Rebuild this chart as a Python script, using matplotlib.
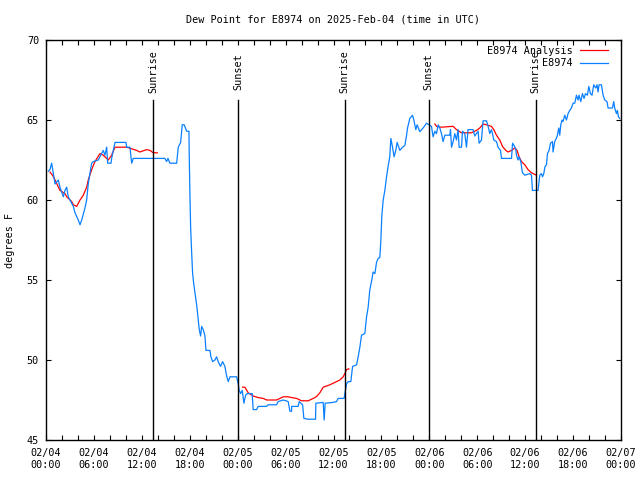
#!/usr/bin/env python3
"""Dew point time series for E8974, observations vs analysis, with sunrise/sunset marks."""
import numpy as np
import matplotlib
matplotlib.use("Agg")
import matplotlib.pyplot as plt
from matplotlib.ticker import MultipleLocator

plt.rcParams["font.family"] = ["DejaVu Sans Mono"]

# hours since 2025-02-04 00:00 UTC, dew point (F)
obs_h = [0.29, 0.49, 0.71, 0.91, 1.13, 1.54, 1.75, 2.17, 2.38, 2.59, 2.79, 3.00, 3.22, 3.42,
         3.63, 4.04, 4.26, 4.47, 4.88, 5.09, 5.29, 5.51, 5.72, 5.92, 6.55, 6.97, 7.17, 7.38,
         7.60, 7.72, 8.14, 8.22, 8.51, 8.64, 10.01, 10.10, 10.51, 10.73, 10.93, 14.89, 15.10,
         15.27, 15.52, 16.36, 16.56, 16.86, 17.06, 17.31, 17.61, 17.90, 17.93, 18.02, 18.11,
         18.24, 18.36, 18.49, 18.65, 18.77, 18.90, 19.06, 19.19, 19.36, 19.49, 19.69, 19.90,
         20.03, 20.53, 20.65, 20.86, 21.15, 21.36, 21.56, 21.86, 22.11, 22.40, 22.62, 22.82,
         23.03, 23.87, 24.07, 24.19, 24.37, 24.57, 24.78, 24.99, 25.19, 25.82, 25.94, 26.37,
         26.57, 27.62, 27.82, 28.87, 29.07, 29.70, 30.04, 30.33, 30.54, 30.75, 30.76, 31.58,
         31.70, 31.91, 32.13, 32.29, 32.83, 33.75, 33.79, 34.71, 34.83, 34.96, 35.96, 36.38,
         36.58, 37.33, 37.42, 37.63, 37.83, 38.17, 38.39, 38.89, 39.09, 39.30, 39.51, 39.92,
         40.14, 40.34, 40.55, 40.76, 40.96, 41.18, 41.39, 41.59, 41.80, 41.93, 42.05, 42.22,
         42.43, 42.64, 42.84, 43.05, 43.18, 43.39, 43.59, 43.80, 43.97, 44.31, 44.64, 44.93,
         45.14, 45.27, 45.56, 45.89, 46.06, 46.31, 46.47, 46.81, 47.22, 47.65, 47.97, 48.27,
         48.47, 48.69, 48.90, 49.10, 49.31, 49.52, 49.72, 49.94, 50.56, 50.65, 50.78, 50.98,
         51.19, 51.40, 51.60, 51.73, 52.03, 52.15, 52.44, 52.65, 52.85, 53.48, 53.69, 54.11,
         54.23, 54.53, 54.73, 55.16, 55.36, 55.57, 55.78, 55.91, 56.07, 56.41, 56.61, 56.91,
         57.04, 58.29, 58.42, 58.61, 58.82, 58.91, 59.11, 59.24, 59.45, 59.66, 59.95, 60.58,
         60.79, 60.91, 61.61, 61.83, 62.04, 62.17, 62.33, 62.49, 62.67, 62.79, 62.99, 63.17,
         63.42, 63.49, 63.70, 63.99, 64.21, 64.33, 64.46, 64.62, 64.74, 64.96, 65.17, 65.37,
         65.58, 65.79, 66.00, 66.21, 66.42, 66.62, 66.75, 66.96, 67.17, 67.37, 67.55, 67.80,
         67.97, 68.17, 68.37, 68.59, 68.84, 69.00, 69.13, 69.25, 69.55, 69.76, 69.97, 70.25,
         70.38, 70.93, 71.09, 71.21, 71.43, 71.55, 71.68, 71.84]
obs_td = [61.8, 61.9, 62.3, 61.7, 61.0, 61.25, 60.8, 60.2, 60.6, 60.8, 60.2, 60.0, 59.8, 59.6,
          59.2, 58.75, 58.45, 58.75, 59.5, 60.0, 61.0, 61.7, 62.3, 62.4, 62.5, 62.9, 63.1, 62.8,
          63.3, 62.3, 62.3, 62.6, 63.3, 63.6, 63.6, 63.3, 63.3, 62.3, 62.6, 62.6, 62.4,
          62.6, 62.3, 62.3, 63.3, 63.6, 64.7, 64.7, 64.3, 64.3, 63.0, 60.4, 58.3,
          56.7, 55.4, 54.8, 54.2, 53.75, 53.3, 52.5, 51.9, 51.5, 52.1, 51.9, 51.5,
          50.6, 50.6, 50.2, 49.9, 50.0, 50.2, 49.9, 49.6, 49.9, 49.6, 49.0, 48.65,
          48.95, 48.95, 48.5, 48.1, 47.9, 48.1, 47.3, 47.8, 47.9, 47.9, 46.9, 46.9,
          47.1, 47.1, 47.2, 47.2, 47.4, 47.5, 47.45, 47.4, 46.8, 46.8, 47.1, 47.1,
          47.4, 47.3, 47.2, 46.35, 46.3, 46.3, 47.3, 47.35, 46.25, 47.3, 47.35, 47.4,
          47.6, 47.6, 47.9, 48.5, 48.65, 48.65, 49.6, 49.7, 50.2, 50.8, 51.55, 51.65,
          52.7, 53.3, 54.4, 54.9, 55.5, 55.4, 56.1, 56.35, 56.4, 57.5, 59.0, 60.0,
          60.6, 61.45, 62.1, 62.7, 63.85, 63.3, 62.7, 63.1, 63.6, 63.1, 63.3, 63.4,
          64.0, 64.5, 65.1, 65.3, 65.0, 64.4, 64.7, 64.27, 64.5, 64.8, 64.7, 64.6,
          63.95, 64.3, 64.15, 64.7, 64.5, 64.15, 63.65, 64.05, 64.05, 64.4, 63.3, 63.65,
          64.15, 63.75, 64.4, 63.3, 63.3, 64.3, 64.15, 63.3, 64.4, 64.4, 64.0, 64.3,
          63.55, 63.75, 64.95, 64.95, 64.6, 64.15, 64.4, 64.15, 63.75, 63.65, 63.3, 63.1,
          62.6, 62.6, 63.55, 63.4, 63.2, 62.8, 62.5, 62.7, 62.4, 61.7, 61.55, 61.65,
          61.55, 60.6, 60.6, 61.55, 61.65, 61.45, 61.65, 62.1, 62.2, 62.9, 63.1, 63.55,
          63.65, 63.0, 63.65, 63.95, 64.5, 64.05, 64.7, 65.0, 64.9, 65.3, 65.0, 65.4,
          65.6, 65.75, 66.05, 66.05, 66.55, 66.25, 66.55, 66.15, 66.65, 66.35, 66.65, 66.55,
          67.1, 66.65, 66.55, 67.2, 67.0, 67.2, 66.75, 67.2, 67.2, 66.55, 66.25, 66.15,
          65.75, 65.75, 66.15, 65.75, 65.4, 65.6, 65.2, 65.1]

# analysis is only available in three windows
ana1_h = [0.50, 0.88, 1.13, 1.75, 2.38, 2.59, 3.22, 3.42, 3.84, 4.26, 4.67, 5.09, 5.29, 5.72,
          6.13, 6.76, 7.17, 7.80, 8.22, 8.64, 10.10, 10.73, 11.35, 11.76, 12.60, 13.02, 13.43, 13.93]
ana1_td = [61.75, 61.5, 61.25, 60.6, 60.4, 60.2, 59.9, 59.7, 59.6, 60.0, 60.3, 60.8, 61.25, 61.9,
           62.4, 62.9, 62.8, 62.5, 62.8, 63.3, 63.3, 63.2, 63.1, 63.0, 63.15, 63.1, 62.95, 62.95]
ana2_h = [24.62, 24.91, 25.32, 25.95, 26.57, 27.20, 27.62, 28.87, 29.29, 29.70, 30.33, 30.75,
          31.38, 32.00, 32.83, 33.25, 33.67, 33.95, 34.29, 34.71, 35.54, 35.96, 36.38, 36.80,
          37.21, 37.42, 37.63, 37.92]
ana2_td = [48.3, 48.3, 47.95, 47.75, 47.65, 47.6, 47.5, 47.5, 47.6, 47.7, 47.7, 47.65,
           47.6, 47.45, 47.45, 47.55, 47.65, 47.75, 47.95, 48.3, 48.45, 48.55, 48.65, 48.75,
           48.95, 49.15, 49.4, 49.45]
ana3_h = [48.69, 48.90, 49.52, 50.78, 50.98, 51.40, 52.03, 53.28, 53.90, 54.32, 54.73, 55.16,
          55.78, 56.07, 56.41, 56.82, 57.16, 57.57, 57.86, 58.29, 58.70, 58.99, 59.24, 59.54,
          59.95, 60.36, 60.79, 61.41]
ana3_td = [64.75, 64.6, 64.55, 64.6, 64.6, 64.4, 64.2, 64.2, 64.35, 64.5, 64.75, 64.7,
           64.6, 64.4, 64.05, 63.75, 63.35, 63.1, 63.0, 63.1, 63.25, 63.1, 62.7, 62.4,
           62.2, 61.9, 61.7, 61.55]

sun_h = [13.43, 24.05, 37.40, 47.93, 61.33]
sun_lbl = ["Sunrise", "Sunset", "Sunrise", "Sunset", "Sunrise"]

tick_h = list(range(0, 73, 6))
tick_lbl = ["02/04\n00:00", "02/04\n06:00", "02/04\n12:00", "02/04\n18:00",
            "02/05\n00:00", "02/05\n06:00", "02/05\n12:00", "02/05\n18:00",
            "02/06\n00:00", "02/06\n06:00", "02/06\n12:00", "02/06\n18:00",
            "02/07\n00:00"]

RED = "#ff0000"
BLUE = "#0a80ff"
FS = 7.3

fig = plt.figure(figsize=(6.4, 4.8), dpi=100)
ax = fig.add_axes([46 / 640, 40 / 480, 575 / 640, 400 / 480])

ax.plot(ana1_h, ana1_td, color=RED, lw=0.9, label="E8974 Analysis")
ax.plot(ana2_h, ana2_td, color=RED, lw=0.9)
ax.plot(ana3_h, ana3_td, color=RED, lw=0.9)
ax.plot(obs_h, obs_td, color=BLUE, lw=0.9, label="E8974")

for h, s in zip(sun_h, sun_lbl):
    ax.axvline(h, ymin=0, ymax=(66.25 - 45) / 25, color="k", lw=1.0)
    ax.text(h, 68.05, s, rotation=90, ha="center", va="center", fontsize=FS)

ax.set_xlim(0, 72)
ax.set_ylim(45, 70)
ax.set_xticks(tick_h)
ax.set_xticklabels(tick_lbl, linespacing=1.25)
ax.xaxis.set_minor_locator(MultipleLocator(2))
ax.set_yticks(range(45, 71, 5))
ax.tick_params(axis="both", which="both", direction="in", top=True, right=True,
               length=3.5, width=0.8, labelsize=FS, colors="k")
ax.tick_params(axis="x", which="major", pad=5.5)
ax.tick_params(axis="y", which="major", pad=5)
for sp in ax.spines.values():
    sp.set_linewidth(1.0)

ax.legend(loc="upper right", bbox_to_anchor=(1 - 7 / 575, 1.0), markerfirst=False,
          frameon=False, fontsize=FS, handlelength=2.8, handletextpad=0.7,
          labelspacing=0.25, borderpad=0.0, borderaxespad=0.55)

fig.text((46 + 621) / 2 / 640, 1 - 19 / 480, "Dew Point for E8974 on 2025-Feb-04 (time in UTC)",
         ha="center", va="center", fontsize=FS)
fig.text(10 / 640, 0.5, "degrees F", rotation=90, ha="center", va="center", fontsize=FS)

fig.savefig("out.png", dpi=100)
